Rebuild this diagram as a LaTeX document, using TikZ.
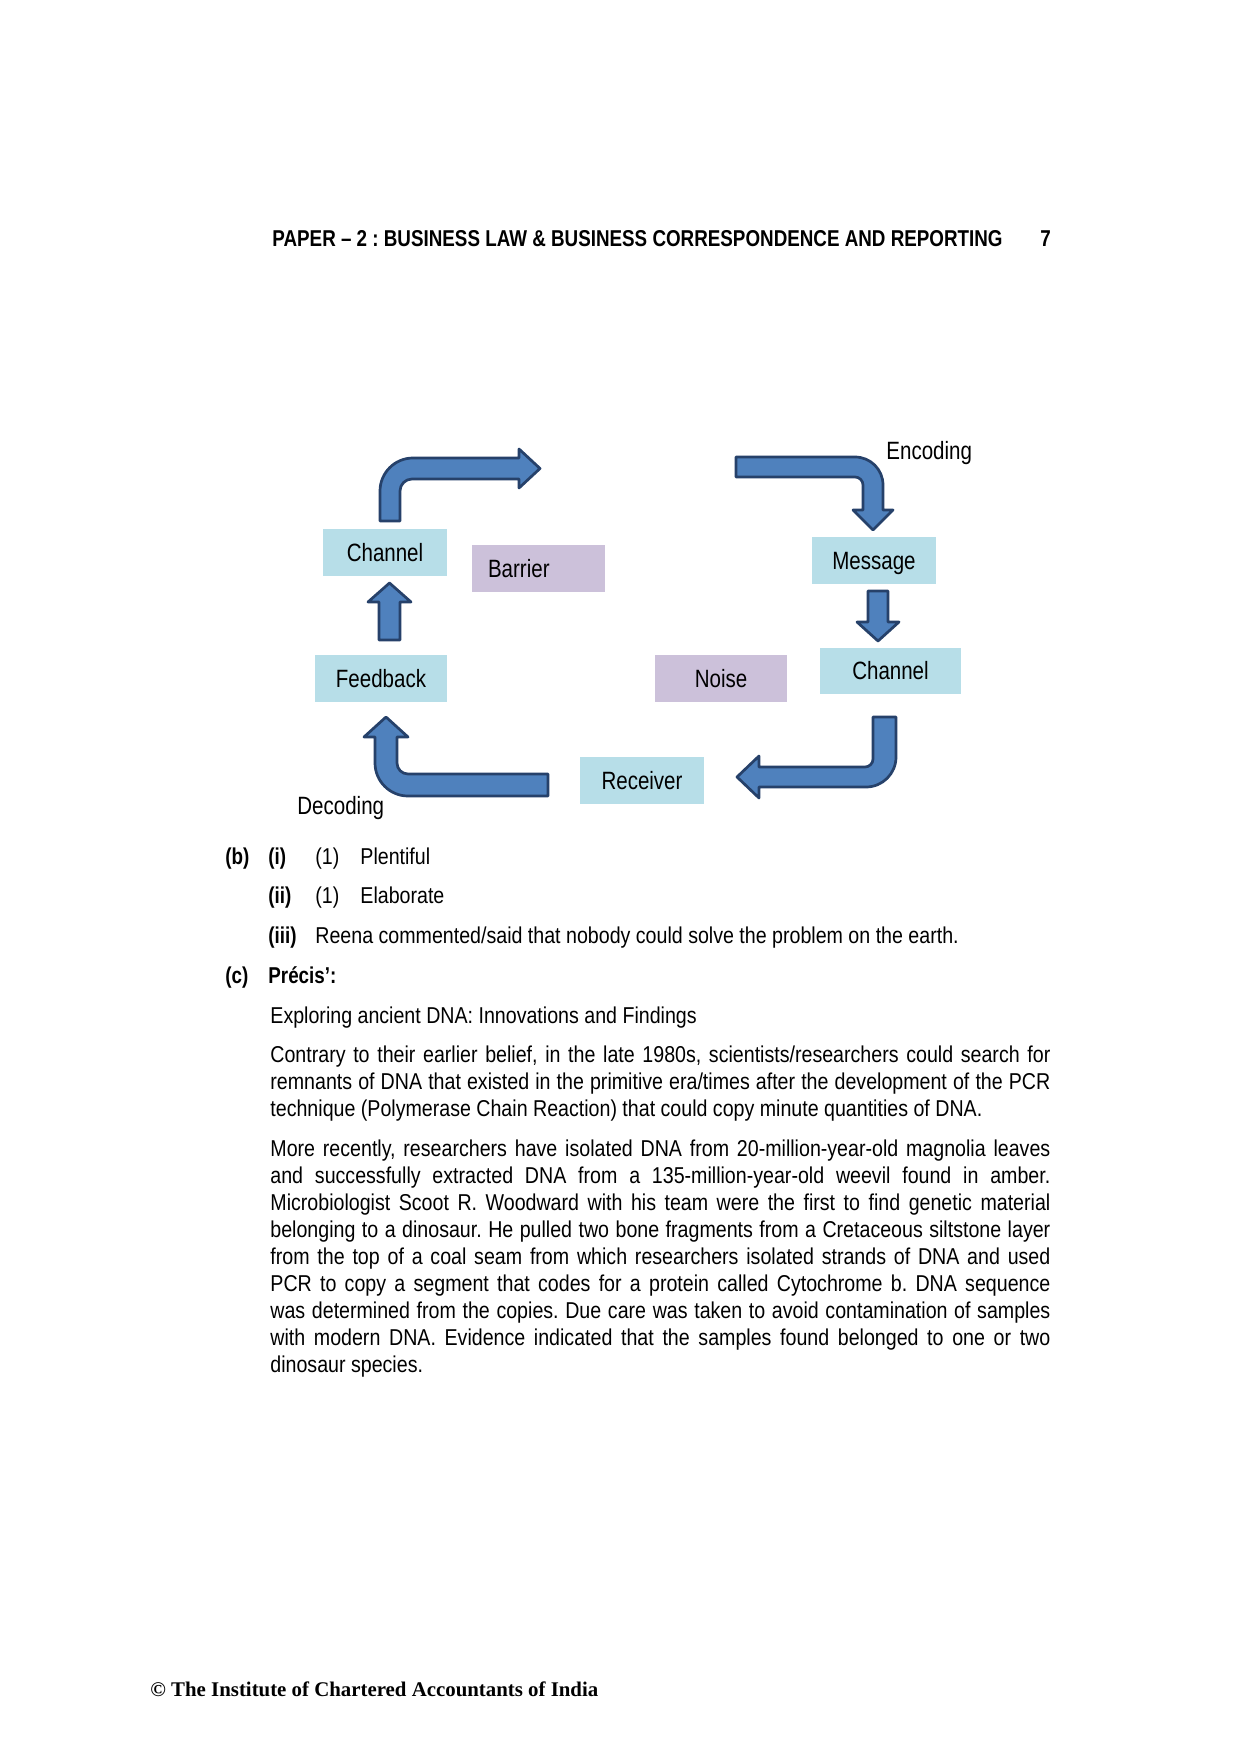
\documentclass[tikz,border=0pt]{standalone}
\usepackage{fontspec}
\setmainfont{Liberation Sans}[FakeStretch=0.855, BoldFeatures={FakeStretch=0.82}]
\newfontfamily\narrowfont{Liberation Sans}[FakeStretch=0.82]
\newfontfamily\footfont{Liberation Serif}
\definecolor{boxblue}{HTML}{B7DEE8}
\definecolor{boxlav}{HTML}{CCC1DA}
\definecolor{arrfill}{HTML}{4F81BD}
\definecolor{arrline}{HTML}{26416A}
\begin{document}
\frenchspacing
\begin{tikzpicture}[x=0.4795pt,y=-0.4795pt,
  lbl/.style={font=\narrowfont\fontsize{12}{14}\selectfont, inner sep=0pt, text height=8.6pt, text depth=0pt, minimum height=22.5pt, anchor=center},
  bluebox/.style={lbl, fill=boxblue},
  lavbox/.style={lbl, fill=boxlav},
  sidelbl/.style={font=\narrowfont\fontsize{12}{14}\selectfont, inner sep=0pt, anchor=base west},
  blockarrow/.style={fill=arrfill, draw=arrline, line width=1.3pt, line join=round},
  body/.style={font=\fontsize{11}{13}\selectfont, inner sep=0pt, anchor=base west},
  bodyb/.style={body, font=\fontsize{11}{13}\selectfont\bfseries},
  jline/.style={body}
]
\useasboundingbox (0,0) rectangle (1241,1754);
\fill[white] (0,0) rectangle (1241,1754);

% header
\node[bodyb] (hdr) at (272,247) {PAPER – 2 : BUSINESS LAW \& BUSINESS CORRESPONDENCE AND REPORTING};
\node[bodyb] (pg) at (1040,247) {7};

% diagram boxes
\node[bluebox, minimum width=59.5pt] (chanL) at (385,552.5) {Channel};
\node[lavbox, minimum width=63.8pt, text width=48.4pt, align=left] (barrier) at (538.5,568.5) {Barrier};
\node[bluebox, minimum width=63.3pt] (feedback) at (381,678.5) {Feedback};
\node[bluebox, minimum width=59.5pt] (message) at (874,560.5) {Message};
\node[bluebox, minimum width=67.6pt, minimum height=22pt] (chanR) at (890.5,671) {Channel};
\node[lavbox, minimum width=63.3pt] (noise) at (721,678.5) {Noise};
\node[bluebox, minimum width=59.5pt] (receiver) at (642,780.5) {Receiver};
\node[sidelbl] (encoding) at (886,459.5) {Encoding};
\node[sidelbl] (decoding) at (297,814) {Decoding};

% block arrows
% top-left: up then right
\draw[blockarrow] (380,521) -- (380,491)
  .. controls (380,472.8) and (394.8,458) .. (413,458)
  -- (519,458) -- (519,449) -- (540,468.5) -- (519,488) -- (519,479) -- (412,479)
  .. controls (405.4,479) and (400,484.4) .. (400,491)
  -- (400,521) -- cycle;
% feedback -> channel (up)
\draw[blockarrow] (379,640) -- (379,602) -- (368,602) -- (389.5,583) -- (411,602) -- (400,602) -- (400,640) -- cycle;
% top-right: right then down (Encoding)
\draw[blockarrow] (736,457) -- (855,457)
  .. controls (870.5,457) and (883,469.5) .. (883,485)
  -- (883,510) -- (893,510) -- (873,530) -- (853,510) -- (863,510) -- (863,485)
  .. controls (863,480.6) and (859.4,477) .. (855,477)
  -- (736,477) -- cycle;
% message -> channel (down)
\draw[blockarrow] (868,591) -- (888,591) -- (888,622) -- (899,622) -- (878,641) -- (857,622) -- (868,622) -- cycle;
% bottom-right: down then left
\draw[blockarrow] (873,717) -- (896,717) -- (896,757)
  .. controls (896,773.6) and (882.6,787) .. (866,787)
  -- (759,787) -- (759,798) -- (737,777) -- (759,756) -- (759,767) -- (865,767)
  .. controls (869.4,767) and (873,763.4) .. (873,759)
  -- cycle;
% bottom-left: left then up (Decoding)
\draw[blockarrow] (548,774) -- (408,774)
  .. controls (401.9,774) and (397,769.1) .. (397,763)
  -- (397,737) -- (408,737) -- (386,717) -- (364,737) -- (375,737) -- (375,763)
  .. controls (375,781.2) and (389.8,796) .. (408,796)
  -- (548,796) -- cycle;

% answers
\node[bodyb] (bl) at (225,864) {(b)};
\node[bodyb] (bi) at (268,864) {(i)};
\node[body] (bi1) at (315,864) {(1)};
\node[body] (bia) at (360,864) {Plentiful};
\node[bodyb] (bii) at (268,903.5) {(ii)};
\node[body] (bii1) at (315,903.5) {(1)};
\node[body] (biia) at (360,903.5) {Elaborate};
\node[bodyb] (biii) at (268,943.5) {(iii)};
\node[body] (biiia) at (315,943.5) {Reena commented/said that nobody could solve the problem on the earth.};
\node[bodyb] (cl) at (225,983.5) {(c)};
\node[bodyb] (ct) at (268,983.5) {Précis’:};
\node[body] (title) at (270,1023) {Exploring ancient DNA: Innovations and Findings};

% paragraph 1
\node[jline] (pa1) at (270,1062.5) {\hbox to 374pt{Contrary to their earlier belief, in the late 1980s, scientists/researchers could search for}};
\node[jline] (pa2) at (270,1089.5) {\hbox to 374pt{remnants of DNA that existed in the primitive era/times after the development of the PCR}};
\node[jline] (pa3) at (270,1116.5) {technique (Polymerase Chain Reaction) that could copy minute quantities of DNA.};

% paragraph 2
\node[jline] (pb1) at (270,1156.5) {\hbox to 374pt{More recently, researchers have isolated DNA from 20-million-year-old magnolia leaves}};
\node[jline] (pb2) at (270,1183.5) {\hbox to 374pt{and successfully extracted DNA from a 135-million-year-old weevil found in amber.}};
\node[jline] (pb3) at (270,1210.5) {\hbox to 374pt{Microbiologist Scoot R. Woodward with his team were the first to find genetic material}};
\node[jline] (pb4) at (270,1237.5) {\hbox to 374pt{belonging to a dinosaur. He pulled two bone fragments from a Cretaceous siltstone layer}};
\node[jline] (pb5) at (270,1264.5) {\hbox to 374pt{from the top of a coal seam from which researchers isolated strands of DNA and used}};
\node[jline] (pb6) at (270,1291.5) {\hbox to 374pt{PCR to copy a segment that codes for a protein called Cytochrome b. DNA sequence}};
\node[jline] (pb7) at (270,1318.5) {\hbox to 374pt{was determined from the copies. Due care was taken to avoid contamination of samples}};
\node[jline] (pb8) at (270,1345.5) {\hbox to 374pt{with modern DNA. Evidence indicated that the samples found belonged to one or two}};
\node[jline] (pb9) at (270,1372.5) {dinosaur species.};

% footer
\node[anchor=base west, inner sep=0pt, font=\footfont\bfseries\fontsize{10}{12}\selectfont] (foot) at (150,1696.7) {© The Institute of Chartered Accountants of India};
\end{tikzpicture}
\end{document}
